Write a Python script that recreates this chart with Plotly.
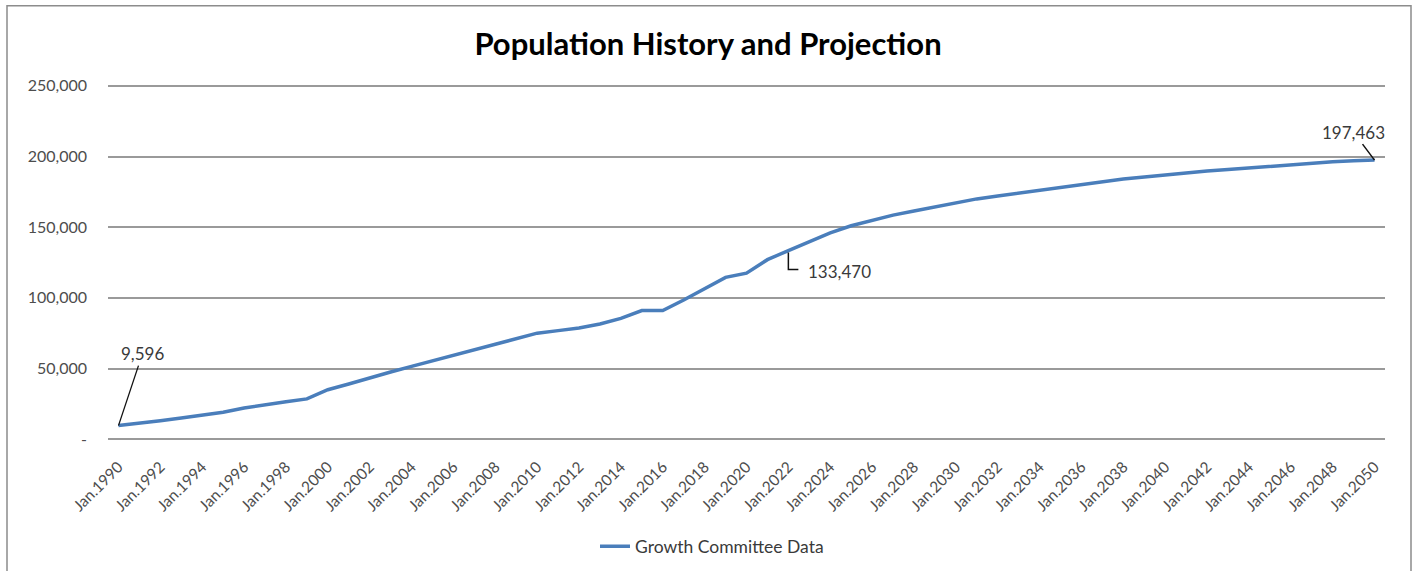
import plotly.graph_objects as go

# Annual population, history through 2016 and projection to 2050
years = list(range(1990, 2051))
population = [
    9596, 11000, 13000, 15000, 17000, 19000, 22000, 24500, 26500, 28500,
    35000, 39000, 43500, 47500, 51500, 55500, 59500, 63000, 67000, 71000,
    75000, 76800, 78600, 81500, 85500, 91000, 91000, 98500, 106500, 114500,
    117500, 127000, 133470, 140000, 146000, 151000, 155000, 158500, 161500, 164500,
    167500, 170000, 172000, 174000, 176500, 178500, 180500, 182000, 184000, 185500,
    187000, 188500, 189800, 190800, 192000, 193300, 194500, 195300, 196300, 197000,
    197463,
]
tick_years = years[::2]
tick_labels = [f"Jan.{y}" for y in tick_years]
y_ticks = [0, 50000, 100000, 150000, 200000, 250000]
y_tick_labels = ["-", "50,000", "100,000", "150,000", "200,000", "250,000"]
labelled_years = [1990, 2022, 2050]

W, H = 1418, 571
# value axis spans 0..250,000 between pixel rows 86 and 439; a little padding
# keeps the first and last gridlines inside the plotting area
Y_TOP_PX, Y_BOT_PX, Y_MAX = 86, 439, 250000
Y_PAD = 2000
pad_px = Y_PAD * (Y_BOT_PX - Y_TOP_PX) / Y_MAX
ML, MR = 108, 33
MT = Y_TOP_PX - pad_px
MB = H - Y_BOT_PX - pad_px
PW, PH = W - ML - MR, H - MT - MB

FONT = "Lato, 'Open Sans', sans-serif"
LINE_BLUE = "#4A7EBB"
GRID = "#9a9a9a"
TICK_COLOR = "#4d4d4d"

fig = go.Figure()
fig.add_trace(go.Scatter(
    x=years, y=population, mode="lines", name="Growth Committee Data",
    line=dict(color=LINE_BLUE, width=3.5),
))

def value_at(year):
    return population[years.index(year)]

def label(v):
    return f"{v:,}"

ann_color = "#3a3a3a"
annotations = []
shapes = []

# first point: straight leader up and to the right
y0 = labelled_years[0]
annotations.append(dict(
    x=y0, y=value_at(y0), xref="x", yref="y", text=label(value_at(y0)),
    showarrow=True, arrowhead=0, arrowwidth=1.3, arrowcolor="#111111",
    ax=24, ay=-72, font=dict(family=FONT, size=17, color=ann_color),
))

# middle point: elbow leader down then right
ym = labelled_years[1]
shapes.append(dict(
    type="path", xref="x", yref="y", xsizemode="pixel", ysizemode="pixel",
    xanchor=ym, yanchor=value_at(ym),
    path="M0,-2 L0,-19 L10,-19",
    line=dict(color="#111111", width=1.5),
))
annotations.append(dict(
    x=ym, y=value_at(ym), xref="x", yref="y", text=label(value_at(ym)),
    showarrow=False, xanchor="left", yanchor="middle", xshift=18, yshift=-21,
    font=dict(family=FONT, size=17, color=ann_color),
))

# last point: short leader up and to the left
ye = labelled_years[2]
annotations.append(dict(
    x=ye, y=value_at(ye), xref="x", yref="y", text=label(value_at(ye)),
    showarrow=True, arrowhead=0, arrowwidth=1.5, arrowcolor="#111111",
    ax=-21, ay=-28, font=dict(family=FONT, size=17, color=ann_color),
))

# chart border
def px_x(p):
    return (p - ML) / PW

def px_y(p):
    return (H - MB - p) / PH

shapes.append(dict(
    type="rect", xref="paper", yref="paper",
    x0=px_x(7), x1=px_x(1411), y0=px_y(575), y1=px_y(6),
    line=dict(color="#8c8c8c", width=1.5), fillcolor="rgba(0,0,0,0)", layer="below",
))

fig.update_layout(
    width=W, height=H,
    margin=dict(l=ML, r=MR, t=MT, b=MB, pad=0, autoexpand=False),
    paper_bgcolor="white", plot_bgcolor="white",
    font=dict(family=FONT, color=TICK_COLOR),
    title=dict(
        text="<b>Population History and Projection</b>",
        x=px_x(708), xref="paper", xanchor="center", y=1 - 44 / H, yanchor="middle",
        font=dict(family=FONT, size=31, color="#000000"),
    ),
    xaxis=dict(
        range=[years[0] - 0.5, years[-1] + 0.5], automargin=False,
        tickmode="array", tickvals=tick_years, ticktext=tick_labels,
        tickangle=-45, tickfont=dict(size=15.5, color=TICK_COLOR),
        showgrid=False, zeroline=False, showline=False, ticks="",
        ticklabelstandoff=int(round(9 + pad_px)),
    ),
    yaxis=dict(
        range=[-Y_PAD, Y_MAX + Y_PAD], automargin=False,
        tickmode="array", tickvals=y_ticks, ticktext=y_tick_labels,
        tickfont=dict(size=16, color=TICK_COLOR),
        showgrid=True, gridcolor=GRID, gridwidth=1.5,
        zeroline=False, showline=False, ticks="", ticklabelstandoff=20,
    ),
    legend=dict(
        orientation="h", x=px_x(712), xanchor="center",
        y=px_y(546), yanchor="middle",
        font=dict(family=FONT, size=17.5, color="#3a3a3a"),
        bgcolor="rgba(0,0,0,0)",
    ),
    showlegend=True,
    annotations=annotations,
    shapes=shapes,
)

fig.write_html("out.html")
